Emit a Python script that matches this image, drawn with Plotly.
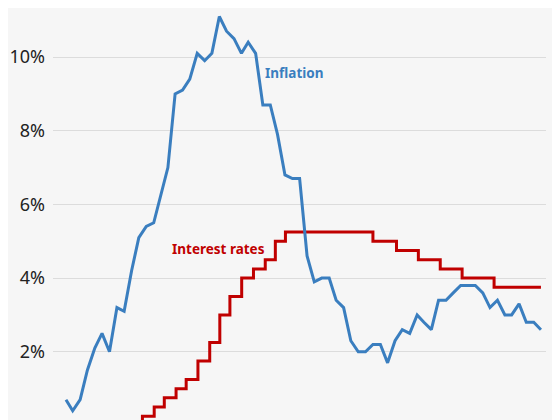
import pandas as pd
import plotly.graph_objects as go

# CPI inflation, monthly Jan 2021 - Jun 2026 (plotted at month end)
inflation_months = pd.date_range('2021-02-01', periods=66, freq='MS')
inflation = [
    0.7, 0.4, 0.7, 1.5, 2.1, 2.5, 2.0, 3.2, 3.1, 4.2, 5.1, 5.4,
    5.5, 6.2, 7.0, 9.0, 9.1, 9.4, 10.1, 9.9, 10.1, 11.1, 10.7, 10.5,
    10.1, 10.4, 10.1, 8.7, 8.7, 7.9, 6.8, 6.7, 6.7, 4.6, 3.9, 4.0,
    4.0, 3.4, 3.2, 2.3, 2.0, 2.0, 2.2, 2.2, 1.7, 2.3, 2.6, 2.5,
    3.0, 2.8, 2.6, 3.4, 3.4, 3.6, 3.8, 3.8, 3.8, 3.6, 3.2, 3.4,
    3.0, 3.0, 3.3, 2.8, 2.8, 2.6,
]

# Bank rate decisions
rate_dates = [
    '2021-02-01', '2021-12-16', '2022-02-03', '2022-03-17', '2022-05-05',
    '2022-06-16', '2022-08-04', '2022-09-22', '2022-11-03', '2022-12-15',
    '2023-02-02', '2023-03-23', '2023-05-11', '2023-06-22', '2023-08-03',
    '2024-08-01', '2024-11-07', '2025-02-06', '2025-05-08', '2025-08-07',
    '2025-12-18', '2026-07-01',
]
rates = [
    0.1, 0.25, 0.5, 0.75, 1.0,
    1.25, 1.75, 2.25, 3.0, 3.5,
    4.0, 4.25, 4.5, 5.0, 5.25,
    5.0, 4.75, 4.5, 4.25, 4.0,
    3.75, 3.75,
]

y_ticks = [0, 2, 4, 6, 8, 10]

BLUE = '#3a7ebf'
RED = '#c00000'

fig = go.Figure()

fig.add_trace(go.Scatter(
    x=pd.to_datetime(rate_dates), y=rates, mode='lines',
    line=dict(color=RED, width=3, shape='hv'),
))
fig.add_trace(go.Scatter(
    x=inflation_months, y=inflation, mode='lines',
    line=dict(color=BLUE, width=3),
))

# labels next to the lines
fig.add_annotation(x=0.426, xref='paper', y=9.57, yref='y', text='<b>Inflation</b>',
                   showarrow=False, xanchor='left', yanchor='middle',
                   font=dict(family='Noto Sans', size=13.5, color=BLUE))
fig.add_annotation(x=0.434, xref='paper', y=4.79, yref='y', text='<b>Interest rates</b>',
                   showarrow=False, xanchor='right', yanchor='middle',
                   font=dict(family='Noto Sans', size=13.5, color=RED))

fig.update_layout(
    width=560, height=420,
    margin=dict(l=45, r=22, t=0, b=0),
    paper_bgcolor='#f6f6f6',
    plot_bgcolor='#f6f6f6',
    showlegend=False,
    font=dict(family='Noto Sans', size=18, color='#222222'),
    xaxis=dict(
        range=['2020-12-09', '2026-07-22'],
        showgrid=False, showticklabels=False, zeroline=False, showline=False,
    ),
    yaxis=dict(
        range=[-0.068, 11.33],
        tickvals=y_ticks, ticktext=[f'{v}%' for v in y_ticks],
        showgrid=True, gridcolor='#dcdcdc', gridwidth=1.2,
        zeroline=False, showline=False, ticklabelstandoff=7,
    ),
)

fig.write_html('out.html')
